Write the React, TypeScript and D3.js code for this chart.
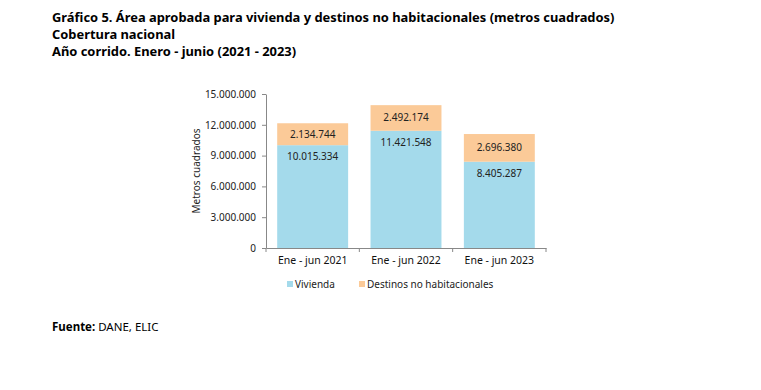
import * as d3 from 'd3';
import { useEffect, useRef } from 'react';

const categories = ['Ene - jun 2021', 'Ene - jun 2022', 'Ene - jun 2023'];
const vivienda = [10015334, 11421548, 8405287];
const destinos = [2134744, 2492174, 2696380];
const yTicks = [0, 3000000, 6000000, 9000000, 12000000, 15000000];
const seriesNames = ['Vivienda', 'Destinos no habitacionales'];
const colors = ['#a4daeb', '#fbca98'];

const fmt = (v: number) => d3.format(',')(v).replace(/,/g, '.');

export default function App() {
    const ref = useRef<SVGSVGElement | null>(null);

    useEffect(() => {
        if (!ref.current) return;
        const svg = d3.select(ref.current);
        svg.selectAll('*').remove();

        const font = '"Noto Sans", "Open Sans", sans-serif';
        const x0 = 266;
        const x1 = 546;
        const y0 = 248;
        const y1 = 94;

        // títulos
        const titles = [
            'Gráfico 5. Área aprobada para vivienda y destinos no habitacionales (metros cuadrados)',
            'Cobertura nacional',
            'Año corrido. Enero - junio (2021 - 2023)',
        ];
        svg.append('g')
            .selectAll('text')
            .data(titles)
            .join('text')
            .attr('x', 52)
            .attr('y', (_, i) => 22 + i * 17)
            .attr('font-family', font)
            .attr('font-weight', 'bold')
            .attr('font-size', 12.9)
            .attr('fill', '#000')
            .text((d) => d);

        const x = d3.scaleBand().domain(categories).range([x0, x1]).paddingInner(0.24).paddingOuter(0.12);
        const y = d3.scaleLinear().domain([0, 15000000]).range([y0, y1]);

        const rows = categories.map((c, i) => ({ c, v: vivienda[i], d: destinos[i] }));

        // barras
        const g = svg.append('g');
        g.selectAll('rect.viv')
            .data(rows)
            .join('rect')
            .attr('class', 'viv')
            .attr('x', (d) => x(d.c)!)
            .attr('width', x.bandwidth())
            .attr('y', (d) => y(d.v))
            .attr('height', (d) => y(0) - y(d.v))
            .attr('fill', colors[0]);
        g.selectAll('rect.des')
            .data(rows)
            .join('rect')
            .attr('class', 'des')
            .attr('x', (d) => x(d.c)!)
            .attr('width', x.bandwidth())
            .attr('y', (d) => y(d.v + d.d))
            .attr('height', (d) => y(d.v) - y(d.v + d.d))
            .attr('fill', colors[1]);

        // etiquetas
        g.selectAll('text.lv')
            .data(rows)
            .join('text')
            .attr('x', (d) => x(d.c)! + x.bandwidth() / 2)
            .attr('y', (d) => y(d.v) + 15)
            .attr('text-anchor', 'middle')
            .attr('font-family', font)
            .attr('font-size', 10)
            .attr('fill', '#222')
            .text((d) => fmt(d.v));
        g.selectAll('text.ld')
            .data(rows)
            .join('text')
            .attr('x', (d) => x(d.c)! + x.bandwidth() / 2)
            .attr('y', (d) => (y(d.v) + y(d.v + d.d)) / 2 + 3.5)
            .attr('text-anchor', 'middle')
            .attr('font-family', font)
            .attr('font-size', 10)
            .attr('fill', '#222')
            .text((d) => fmt(d.d));

        // eje Y
        const yAxis = svg.append('g')
            .attr('transform', `translate(${x0},0)`)
            .call(d3.axisLeft(y).tickValues(yTicks).tickSizeInner(4).tickSizeOuter(0).tickPadding(6).tickFormat((v) => fmt(+v)));
        yAxis.select('.domain').attr('stroke', '#888');
        yAxis.selectAll('line').attr('stroke', '#888');
        yAxis.selectAll('text').attr('font-family', font).attr('font-size', 10).attr('fill', '#222');

        // eje X
        const xAxis = svg.append('g')
            .attr('transform', `translate(0,${y0})`)
            .call(d3.axisBottom(x).tickSize(0).tickPadding(9));
        xAxis.select('.domain').attr('stroke', '#888');
        xAxis.selectAll('text').attr('font-family', font).attr('font-size', 10.5).attr('fill', '#111');
        // marcas entre categorías
        const step = (x1 - x0) / categories.length;
        xAxis.append('g')
            .selectAll('line')
            .data(d3.range(categories.length + 1))
            .join('line')
            .attr('x1', (i) => x0 + i * step)
            .attr('x2', (i) => x0 + i * step)
            .attr('y1', 0)
            .attr('y2', 4)
            .attr('stroke', '#888');

        svg.append('text')
            .attr('transform', `translate(200,${(y0 + y1) / 2}) rotate(-90)`)
            .attr('text-anchor', 'middle')
            .attr('font-family', font)
            .attr('font-size', 10)
            .attr('fill', '#222')
            .text('Metros cuadrados');

        // leyenda
        const legendX = [287, 359];
        const lg = svg.append('g')
            .selectAll('g')
            .data(seriesNames)
            .join('g')
            .attr('transform', (_, i) => `translate(${legendX[i]},281)`);
        lg.append('rect').attr('width', 6).attr('height', 6).attr('fill', (_, i) => colors[i]);
        lg.append('text')
            .attr('x', 8)
            .attr('y', 7)
            .attr('font-family', font)
            .attr('font-size', 10)
            .attr('fill', '#222')
            .text((d) => d);

        // fuente
        const src = svg.append('text')
            .attr('x', 52)
            .attr('y', 331)
            .attr('font-family', font)
            .attr('font-size', 11.5)
            .attr('fill', '#000');
        src.append('tspan').attr('font-weight', 'bold').text('Fuente:');
        src.append('tspan').text(' DANE, ELIC');
    }, []);

    return (
        <svg
            ref={ref}
            width={761}
            height={390}
            style={{ position: 'absolute', left: 0, top: 0, background: '#fff' }}
        />
    );
}
